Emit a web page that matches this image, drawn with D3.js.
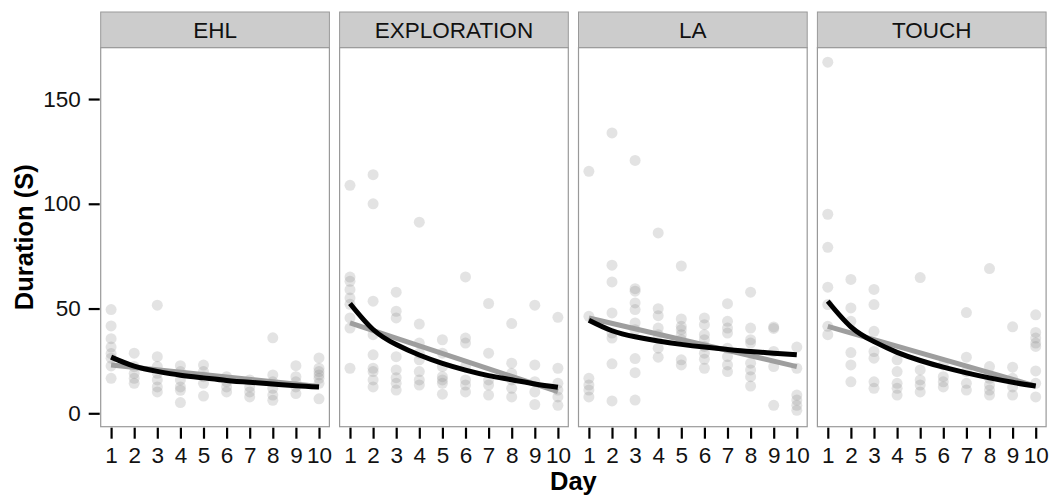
<!DOCTYPE html>
<html>
<head>
<meta charset="utf-8">
<script src="https://cdn.jsdelivr.net/npm/d3@7"></script>
<style>
  body { margin: 0; background: #fff; }
  svg text { font-family: "Liberation Sans", Arial, Helvetica, sans-serif; }
</style>
</head>
<body>
<svg id="chart" width="1053" height="500"></svg>
<script>
var panels = ["EHL", "EXPLORATION", "LA", "TOUCH"];
var days = [1, 2, 3, 4, 5, 6, 7, 8, 9, 10];
var yTicks = [0, 50, 100, 150];

// durations per day (index 0 = day 1)
var ehlDur = [
  [49.5, 41.7, 35.6, 31.6, 28.5, 26.3, 22.6, 16.7],
  [28.7, 22.3, 19.1, 16.7, 14.3],
  [51.6, 27, 22.3, 19.1, 15.9, 12.6, 10.2],
  [22.7, 19.9, 15.9, 12.6, 11, 5.1],
  [23, 19.9, 17.5, 14.3, 8.2],
  [17.5, 15, 12.6, 10.2],
  [15.9, 12.6, 10.2, 7.8],
  [36, 18.3, 15, 11.9, 8.7, 6.2],
  [22.7, 17.5, 15, 12.6, 9.4],
  [26.4, 21.5, 19.9, 18.3, 16.7, 14.3, 6.9]
];
var explorationDur = [
  [108.8, 65, 63, 59, 55, 52, 45.5, 40.7, 21.5],
  [113.9, 100, 53.5, 37.5, 27.9, 21.5, 19.9, 15.9, 12.6],
  [57.8, 48.7, 45.5, 27, 20.7, 17, 14.3, 11.1],
  [91.2, 42.6, 33.5, 28.7, 25.5, 19.9, 15.9, 13.5],
  [35.1, 28.7, 22.3, 17.5, 15.9, 14.3, 9.1],
  [65.1, 35.9, 33.5, 22.3, 15.9, 13.5, 10.2],
  [52.4, 28.7, 15.9, 13.5, 8.7],
  [42.8, 23.9, 19.1, 15.9, 11.9, 7.8],
  [51.6, 23.1, 15.1, 10.2, 4.2],
  [45.8, 21.5, 14.3, 11.1, 7.8, 3.8]
];
var laDur = [
  [115.5, 46.3, 16.7, 13.5, 11.1, 7.8],
  [133.8, 70.7, 62.7, 47.9, 38.3, 35.9, 23.6, 5.9],
  [120.7, 59.5, 58.3, 52.7, 49.5, 43.1, 39.9, 26.1, 19.4, 6.3],
  [86.1, 49.9, 46.6, 40.7, 37.5, 31.1, 26.8],
  [70.3, 45, 41.5, 39.9, 37.5, 35.1, 25.5, 23.1],
  [45.5, 42.3, 37.5, 35.1, 31.9, 28.7, 25.8, 21.5],
  [52.3, 43.9, 40.7, 38.3, 31.1, 27.1, 23.1, 19.9],
  [57.8, 40.7, 35.1, 33.5, 23.9, 20.7, 17.5, 13],
  [41.2, 40.5, 29.5, 22.3, 3.8],
  [31.6, 21.5, 8.7, 6.3, 3.8, 1.4]
];
var touchDur = [
  [167.6, 95, 79.2, 60.2, 51.9, 41.5, 37.5],
  [63.9, 50.3, 43.9, 29, 23.1, 15],
  [59.1, 51.9, 39.1, 29.5, 26.3, 15, 11.9],
  [25.5, 19.9, 14.3, 11.9, 8.7],
  [64.8, 20.7, 15.9, 13.5, 10.2],
  [23.1, 17.5, 15, 12.6],
  [48.1, 26.8, 19.9, 14.3, 11.1],
  [69.1, 22.3, 16.7, 13.5, 11.1, 8.7],
  [41.3, 22, 16.7, 12.6, 8.7],
  [47, 38.6, 35.9, 33.5, 31.9, 20.2, 14.3, 7.8]
];

// fitted curve (black), values at each day
var ehlFit = [26.8, 22.5, 20.0, 18.2, 16.9, 15.7, 14.8, 14.0, 13.2, 12.6];
var explorationFit = [52.4, 40.0, 32.8, 27.8, 23.8, 20.6, 18.0, 16.0, 14.0, 12.4];
var laFit = [44.4, 39.4, 36.5, 34.5, 32.9, 31.6, 30.5, 29.5, 28.7, 27.9];
var touchFit = [53.5, 41.3, 34.2, 29.1, 25.2, 22.0, 19.3, 16.9, 14.8, 13.0];

// linear fit (grey), value at day 1 and day 10
var ehlLin = [23.0, 12.8];
var explorationLin = [43.1, 10.3];
var laLin = [45.5, 22.3];
var touchLin = [41.5, 13.0];

var allDur = [ehlDur, explorationDur, laDur, touchDur];
var allFit = [ehlFit, explorationFit, laFit, touchFit];
var allLin = [ehlLin, explorationLin, laLin, touchLin];

var svg = d3.select("#chart");
var panelLeft = 100.7, panelW = 228.7, panelStep = 238.9;
var stripTop = 12, stripBot = 47.7, plotBot = 426.7;
var fontSmall = "22.5px", fontTitle = "25.5px";

var y = d3.scaleLinear().domain([-6.4, 174.5]).range([plotBot, stripBot]);
var x = d3.scaleLinear().domain([0.55, 10.45]).range([0, panelW]);

var line = d3.line()
  .x(function(d) { return x(d[0]); })
  .y(function(d) { return y(d[1]); })
  .curve(d3.curveNatural);

panels.forEach(function(name, p) {
  var g = svg.append("g").attr("transform", "translate(" + (panelLeft + p * panelStep) + ",0)");

  // strip
  g.append("rect")
    .attr("x", 0).attr("y", stripTop)
    .attr("width", panelW).attr("height", stripBot - stripTop)
    .attr("fill", "#cccccc").attr("stroke", "#999999").attr("stroke-width", 1);
  g.append("text")
    .attr("x", panelW / 2).attr("y", 38.3)
    .attr("text-anchor", "middle")
    .attr("font-size", fontSmall).attr("fill", "#111")
    .text(name);

  // panel background
  g.append("rect")
    .attr("x", 0).attr("y", stripBot)
    .attr("width", panelW).attr("height", plotBot - stripBot)
    .attr("fill", "#ffffff");

  // points
  var pts = [];
  allDur[p].forEach(function(vals, i) {
    vals.forEach(function(v) { pts.push([days[i], v]); });
  });
  g.selectAll("circle.pt").data(pts).enter().append("circle")
    .attr("class", "pt")
    .attr("cx", function(d) { return x(d[0]); })
    .attr("cy", function(d) { return y(d[1]); })
    .attr("r", 5.5)
    .attr("fill", "#808080").attr("fill-opacity", 0.22);

  // grey linear fit
  g.append("path")
    .datum([[days[0], allLin[p][0]], [days[days.length - 1], allLin[p][1]]])
    .attr("d", line)
    .attr("fill", "none").attr("stroke", "#9e9e9e").attr("stroke-width", 5);

  // black curve
  g.append("path")
    .datum(days.map(function(d, i) { return [d, allFit[p][i]]; }))
    .attr("d", line)
    .attr("fill", "none").attr("stroke", "#000000").attr("stroke-width", 5);

  // panel border
  g.append("rect")
    .attr("x", 0).attr("y", stripBot)
    .attr("width", panelW).attr("height", plotBot - stripBot)
    .attr("fill", "none").attr("stroke", "#999999").attr("stroke-width", 1.2);

  // x axis
  var xa = g.append("g").attr("transform", "translate(0," + (plotBot + 1) + ")")
    .call(d3.axisBottom(x).tickValues(days).tickSize(11).tickPadding(8).tickFormat(d3.format("d")));
  xa.select(".domain").remove();
  xa.selectAll(".tick line").attr("stroke", "#000").attr("stroke-width", 2.2);
  xa.selectAll(".tick text").attr("font-size", fontSmall).attr("fill", "#111")
    .attr("font-family", "Liberation Sans, Arial, sans-serif");
});

// y axis on first panel
var ya = svg.append("g").attr("transform", "translate(" + (panelLeft - 1) + ",0)")
  .call(d3.axisLeft(y).tickValues(yTicks).tickSize(11).tickPadding(8));
ya.select(".domain").remove();
ya.selectAll(".tick line").attr("stroke", "#000").attr("stroke-width", 2.2);
ya.selectAll(".tick text").attr("font-size", fontSmall).attr("fill", "#111")
  .attr("font-family", "Liberation Sans, Arial, sans-serif");

// axis titles
svg.append("text")
  .attr("x", panelLeft + (3 * panelStep + panelW) / 2).attr("y", 490)
  .attr("text-anchor", "middle")
  .attr("font-size", fontTitle).attr("font-weight", "bold")
  .text("Day");
svg.append("text")
  .attr("transform", "translate(33," + ((stripBot + plotBot) / 2) + ") rotate(-90)")
  .attr("text-anchor", "middle")
  .attr("font-size", fontTitle).attr("font-weight", "bold")
  .text("Duration (S)");
</script>
</body>
</html>
